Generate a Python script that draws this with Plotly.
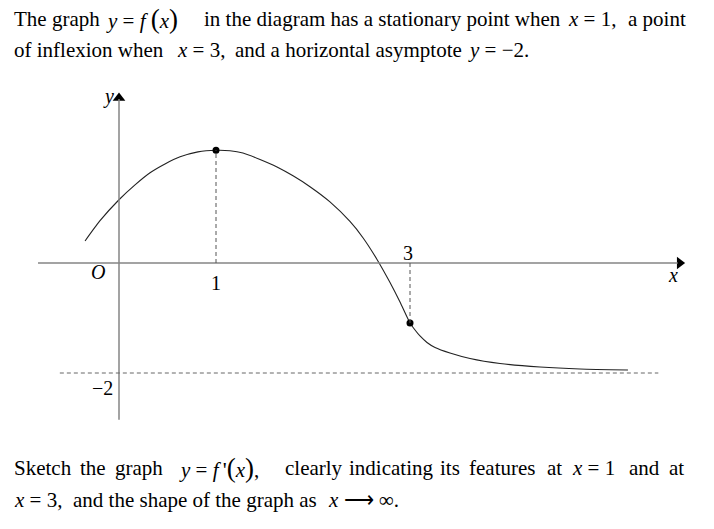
import plotly.graph_objects as go

# ---- data ----
curve_x = [-0.35, -0.20, 0.0, 0.165, 0.32, 0.474, 0.63, 0.814, 1.0, 1.144, 1.278, 1.454, 1.629, 1.794, 1.969,
           2.175, 2.381, 2.515, 2.66, 2.794, 2.897, 3.0,
           3.052, 3.103, 3.175, 3.258, 3.412, 3.619, 3.928, 4.34, 4.753, 5.247]
curve_y = [0.40, 0.76, 1.15, 1.42, 1.64, 1.80, 1.93, 2.02, 2.05, 2.042, 2.0, 1.882, 1.745, 1.585, 1.387,
           1.111, 0.755, 0.46, 0.065, -0.355, -0.709, -1.09,
           -1.218, -1.327, -1.445, -1.536, -1.636, -1.736, -1.827, -1.891, -1.927, -1.945]
key_x = [1, 3]            # stationary point, point of inflexion
key_y = [2.05, -1.09]
asymptote_y = -2
asymptote_x = [-0.61, 5.56]

FONT = "Liberation Serif"
AX = "#858585"
OFF = 0  # page body margin (removed via post_script)

fig = go.Figure()

# axes lines
fig.add_shape(type="line", x0=-0.835, x1=5.76, y0=0, y1=0, line=dict(color=AX, width=1.5))
fig.add_shape(type="line", x0=0, x1=0, y0=-2.85, y1=2.98, line=dict(color=AX, width=1.5))

# dashed guides
fig.add_shape(type="line", x0=asymptote_x[0], x1=asymptote_x[1], y0=asymptote_y, y1=asymptote_y,
              line=dict(color="#666", width=1, dash="4px,3px"))
for kx, ky in zip(key_x, key_y):
    fig.add_shape(type="line", x0=kx, x1=kx, y0=0, y1=ky, line=dict(color="#555", width=1, dash="4px,3px"))

# curve
fig.add_trace(go.Scatter(x=curve_x, y=curve_y, mode="lines",
                         line=dict(color="#222", width=1.1, shape="spline", smoothing=0.6),
                         hoverinfo="skip"))
fig.add_trace(go.Scatter(x=key_x, y=key_y, mode="markers", marker=dict(color="black", size=7), hoverinfo="skip"))

# arrowheads
fig.add_trace(go.Scatter(x=[5.78], y=[0], mode="markers", marker=dict(symbol="triangle-right", color="black", size=11),
                         hoverinfo="skip"))
fig.add_trace(go.Scatter(x=[0], y=[3.0], mode="markers", marker=dict(symbol="triangle-up", color="black", size=11),
                         hoverinfo="skip"))

# axis labels
def lab(x, y, t, size=20, italic=False):
    fig.add_annotation(x=x, y=y, text=(f"<i>{t}</i>" if italic else t), showarrow=False,
                       font=dict(family=FONT, size=size, color="black"), xanchor="center", yanchor="middle")

lab(-0.22, -0.17, "O", italic=True)
lab(1.0, -0.37, "1")
lab(2.98, 0.19, "3")
lab(5.71, -0.22, "x", italic=True)
lab(-0.11, 3.02, "y", italic=True)
lab(-0.17, -2.28, "\u22122")

# question text (page pixel positions)
def txt(px, py, t):
    fig.add_annotation(xref="paper", yref="paper", x=(px - OFF) / 714, y=1 - (py - OFF) / 529, text=t,
                       showarrow=False, font=dict(family=FONT, size=21, color="black"),
                       xanchor="left", yanchor="middle")

LP = "<span style='font-size:27px'>(</span>"
RP = "<span style='font-size:27px'>)</span>"
SP = "\u00a0"

txt(12, 19, "The graph")
txt(104, 19, f"<i>y</i>{SP}={SP}<i>f</i>{SP}{LP}<i>x</i>{RP}")
txt(202, 19, "in the diagram has a stationary point when")
txt(566, 19, f"<i>x</i>{SP}={SP}1,")
txt(626, 19, "a point")
txt(12, 50, "of inflexion when")
txt(175, 50, f"<i>x</i>{SP}={SP}3,")
txt(233, 50, "and a horizontal asymptote")
txt(466, 50, f"<i>y</i>{SP}={SP}\u22122.")

txt(12, 468, "Sketch")
txt(78, 468, "the")
txt(113, 468, "graph")
txt(177, 468, f"<i>y</i>{SP}={SP}<i>f</i>\u2009<span style='font-size:22px'>'</span>{LP}<i>x</i>{RP},")
txt(283, 468, "clearly")
txt(347, 468, "indicating")
txt(438, 468, "its")
txt(467, 468, "features")
txt(545, 468, "at")
txt(570, 468, f"<i>x</i>{SP}={SP}1")
txt(627, 468, "and")
txt(667, 468, "at")
txt(12, 500, f"<i>x</i>{SP}={SP}3,")
txt(71, 500, "and the shape of the graph as")
txt(326, 500, f"<i>x</i>{SP}\u27f6{SP}\u221e.")

fig.update_layout(width=714, height=529, margin=dict(l=0, r=0, t=0, b=0), showlegend=False,
                  plot_bgcolor="white", paper_bgcolor="white",
                  xaxis=dict(range=[(OFF - 119) / 97, (714 + OFF - 119) / 97], visible=False, fixedrange=True),
                  yaxis=dict(range=[(263 - 529 - OFF) / 55, (263 - OFF) / 55], visible=False, fixedrange=True))

fig.write_html("out.html", config={"displayModeBar": False, "staticPlot": True},
               post_script="document.body.style.margin='0px';document.body.style.overflow='hidden';")
